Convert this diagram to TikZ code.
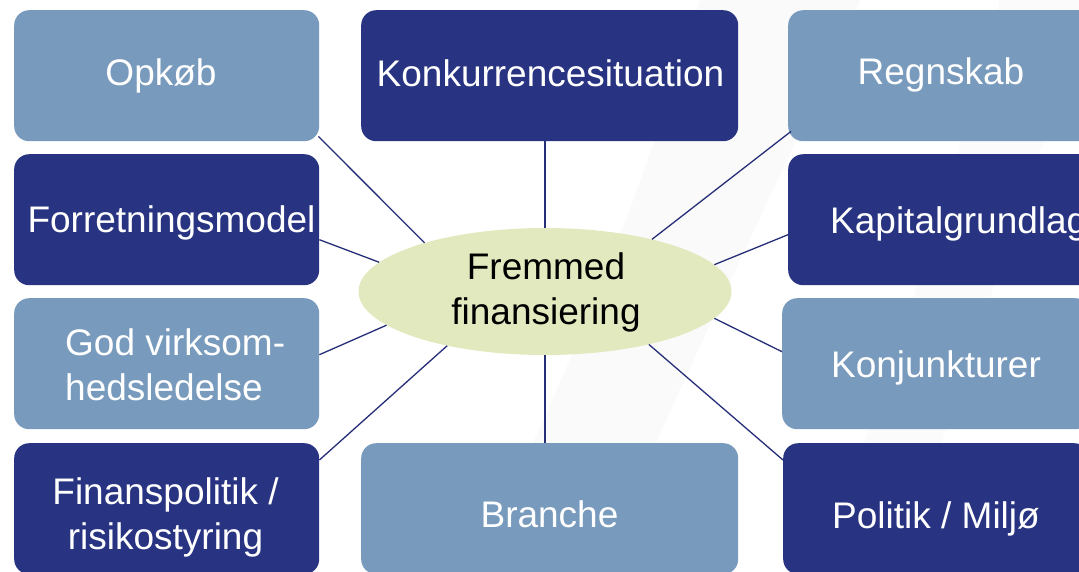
\documentclass[tikz,border=0pt]{standalone}
\usepackage{fontspec}
\setmainfont{Liberation Sans}
\usetikzlibrary{shapes.geometric,calc}
\definecolor{lightbox}{RGB}{120,154,188}
\definecolor{darkbox}{RGB}{40,52,129}
\definecolor{ellfill}{RGB}{227,233,190}
\definecolor{linecol}{RGB}{38,46,120}
\tikzset{
  box/.style={draw=none, rounded corners=15pt, minimum height=131pt, inner sep=0pt, anchor=north west},
  lbox/.style={box, fill=lightbox},
  dbox/.style={box, fill=darkbox},
  lbl/.style={text=white, font=\fontsize{37}{45}\selectfont, anchor=base, inner sep=0pt},
  conn/.style={draw=linecol, line width=1.3pt},
}
\begin{document}
\begin{tikzpicture}[x=1pt,y=-1pt]
\useasboundingbox (0,0) rectangle (1079,571);
\fill[white] (0,0) rectangle (1079,571);
% faint background swooshes
\fill[black!2] (700,0) .. controls (640,200) and (560,400) .. (470,571) -- (600,571) .. controls (680,380) and (780,180) .. (860,0) -- cycle;
\fill[black!1.5] (1000,0) .. controls (950,200) and (880,400) .. (820,571) -- (900,571) .. controls (960,380) and (1030,180) .. (1079,40) -- (1079,0) -- cycle;
% boxes
\node[lbox, minimum width=305pt] (opk) at (14,10) {};
\node[dbox, minimum width=305pt] (frm) at (14,154) {};
\node[lbox, minimum width=305pt] (god) at (14,298) {};
\node[dbox, minimum width=305pt] (fin) at (14,443) {};
\node[dbox, minimum width=377pt] (kon) at (361,10) {};
\node[lbox, minimum width=377pt] (bra) at (361,443) {};
\node[lbox, minimum width=306pt] (reg) at (788,10) {};
\node[dbox, minimum width=306pt] (kap) at (788,154) {};
\node[lbox, minimum width=308pt] (knj) at (782,298) {};
\node[dbox, minimum width=306pt] (pol) at (783,443) {};
% centre ellipse
\node[ellipse, fill=ellfill, minimum width=373pt, minimum height=127pt, inner sep=0pt] (e) at (545,291.5) {};
\node[anchor=base, inner sep=0pt, align=center, font=\fontsize{37}{45}\selectfont] (et) at (546,324) {Fremmed\\finansiering};
% labels
\node[lbl] (topk) at (161,85) {Opkøb};
\node[lbl] (tfrm) at (171.5,232) {Forretningsmodel};
\node[lbl, anchor=base west, align=left] (tgod) at (65,400) {God virksom-\\hedsledelse};
\node[lbl, align=center] (tfin) at (165.5,549) {Finanspolitik /\\risikostyring};
\node[lbl] (tkon) at (550.5,86) {Konkurrencesituation};
\node[lbl] (tbra) at (549.5,527) {Branche};
\node[lbl] (treg) at (941,84) {Regnskab};
\node[lbl, anchor=base west] (tkap) at (830,233) {Kapitalgrundlag};
\node[lbl] (tknj) at (936,377) {Konjunkturer};
\node[lbl] (tpol) at (936,528) {Politik / Miljø};
% connectors
\draw[conn] (e.north) -- (e.north |- kon.south);
\draw[conn] (e.south) -- (e.south |- bra.north);
\draw[conn] ($(opk.south east)+(-1,-5)$) -- (e.158.6);
\draw[conn] ($(frm.east)+(0,20)$) -- (e.170.7);
\draw[conn] ($(god.east)+(0,-9)$) -- (e.192.8);
\draw[conn] ($(fin.north east)+(0,17)$) -- (e.209.8);
\draw[conn] ($(reg.south west)+(3,-10)$) -- (e.26.2);
\draw[conn] ($(kap.west)+(0,15)$) -- (e.9.6);
\draw[conn] ($(knj.west)+(0,-12)$) -- (e.-9.6);
\draw[conn] ($(pol.north west)+(0,17)$) -- (e.-27.6);
\end{tikzpicture}
\end{document}
